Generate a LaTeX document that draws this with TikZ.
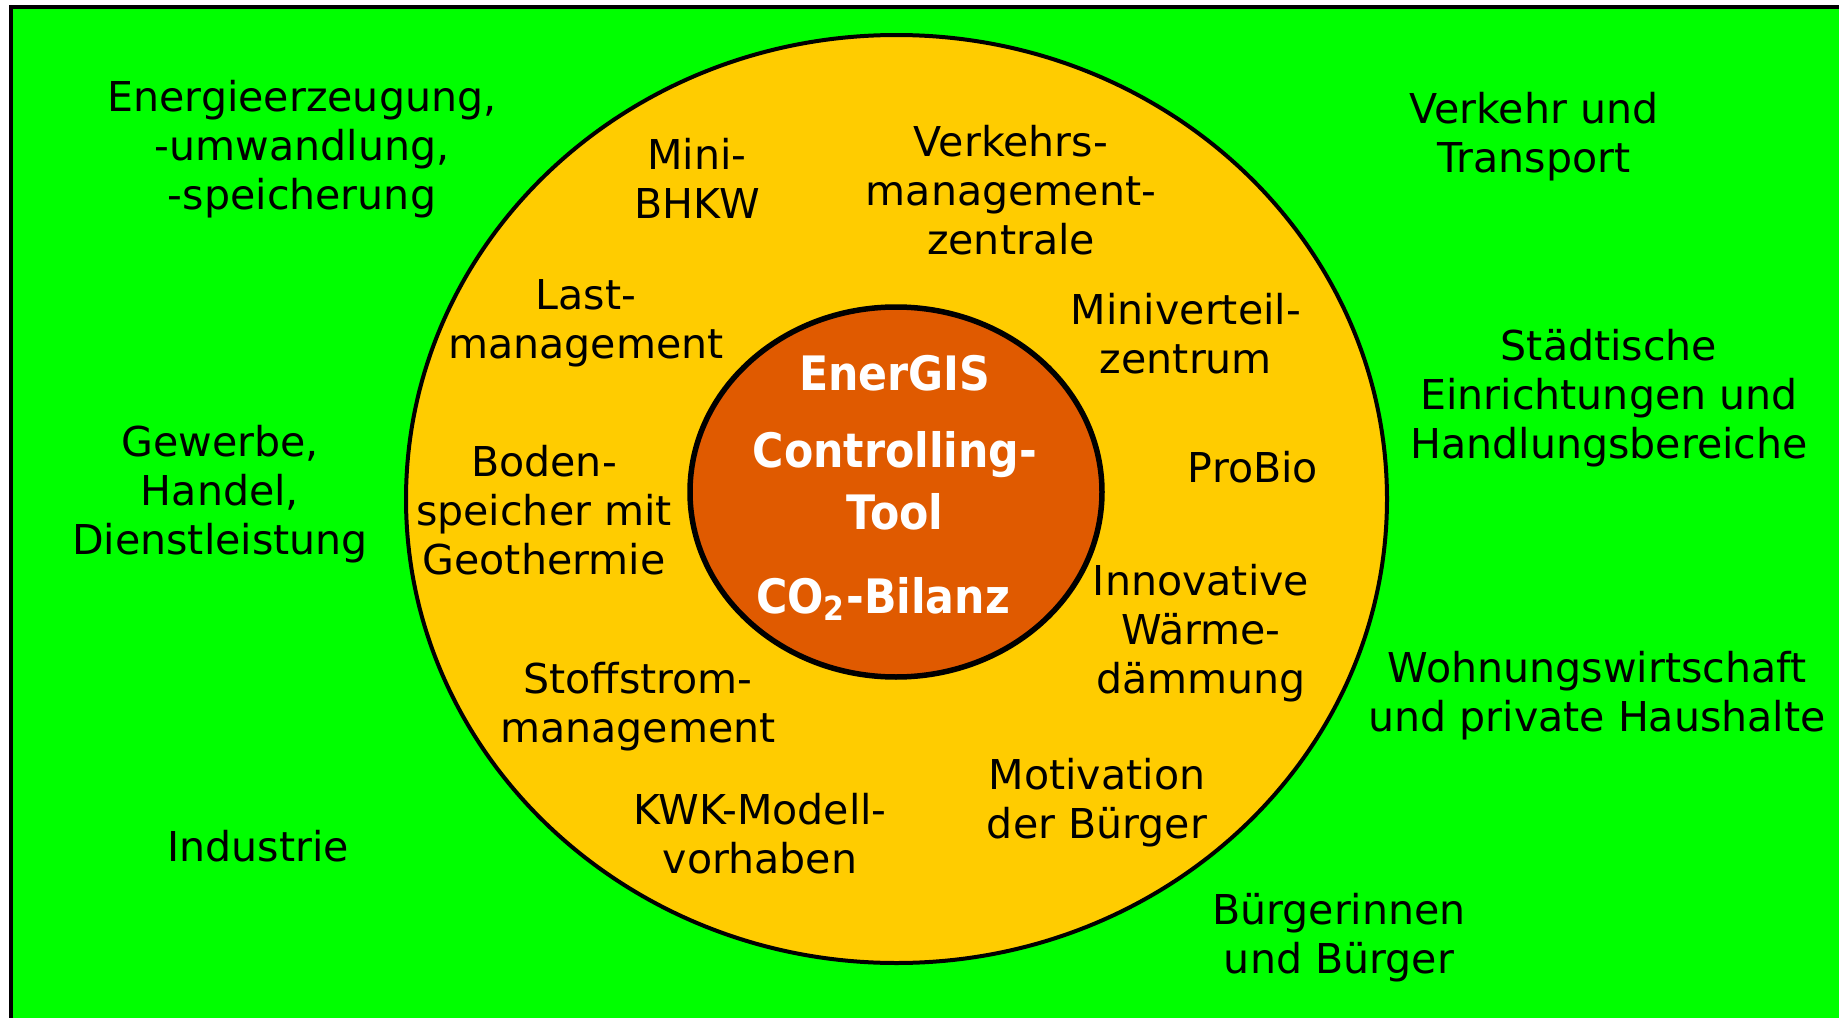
\documentclass[tikz,border=0pt]{standalone}
\usepackage{fontspec}
\setmainfont{DejaVu Sans}
\newfontfamily\innerfont{DejaVu Sans}[FakeStretch=0.9]
\definecolor{bggreen}{RGB}{0,255,0}
\definecolor{ringyellow}{RGB}{255,204,0}
\definecolor{coreorange}{RGB}{224,90,0}
\tikzset{
  lbl/.style={align=center, inner sep=0pt, text=black, font=\fontsize{11.7}{13.9}\selectfont},
  corelbl/.style={align=center, inner sep=0pt, text=white, font=\innerfont\bfseries\fontsize{13.5}{17.6}\selectfont},
}
\begin{document}
\begin{tikzpicture}[x=0.1mm, y=-0.1mm]
\clip (0,0) rectangle (1839,1018);
\useasboundingbox (0,0) rectangle (1839,1018);
\fill[white] (0,0) rectangle (1839,1018);
% background with border on top and left
\draw[line width=4*0.2845pt, fill=bggreen] (11,7) rectangle (1860,1040);
% outer ring
\draw[line width=4*0.2845pt, fill=ringyellow] (896.5,499) ellipse [x radius=490.5, y radius=464];
% core
\draw[line width=5.5*0.2845pt, fill=coreorange] (896,492) ellipse [x radius=206, y radius=185];

% outer labels
\node[lbl] (energie) at (302,149) {Energieerzeugung,\\-umwandlung,\\-speicherung};
\node[lbl] (gewerbe) at (220,494) {Gewerbe,\\Handel,\\Dienstleistung};
\node[lbl] (industrie) at (258,846) {Industrie};
\node[lbl] (verkehr) at (1534,137) {Verkehr und\\Transport};
\node[lbl] (staedt) at (1609,398) {Städtische\\Einrichtungen und\\Handlungsbereiche};
\node[lbl] (wohnung) at (1597,696) {Wohnungswirtschaft\\und private Haushalte};
\node[lbl] (buerger) at (1339,938) {Bürgerinnen\\und Bürger};

% ring labels
\node[lbl] (minibhkw) at (697,178) {Mini-\\BHKW};
\node[lbl] (vmz) at (1011,190) {Verkehrs-\\management-\\zentrale};
\node[lbl] (last) at (586,323) {Last-\\management};
\node[lbl] (miniv) at (1186,334) {Miniverteil-\\zentrum};
\node[lbl] (probio) at (1253,467) {ProBio};
\node[lbl] (boden) at (544,510) {Boden-\\speicher mit\\Geothermie};
\node[lbl] (waerme) at (1201,633) {Innovative\\Wärme-\\dämmung};
\node[lbl] (stoff) at (638,707) {Stoffstrom-\\management};
\node[lbl] (motiv) at (1097,803) {Motivation\\der Bürger};
\node[lbl] (kwk) at (760,834) {KWK-Modell-\\vorhaben};

% core labels
\node[corelbl] (energis) at (895,373) {EnerGIS};
\node[corelbl] (ctool) at (895,481) {Controlling-\\Tool};
\node[corelbl] (co2) at (883,599) {CO\textsubscript{2}-Bilanz};
\end{tikzpicture}
\end{document}
